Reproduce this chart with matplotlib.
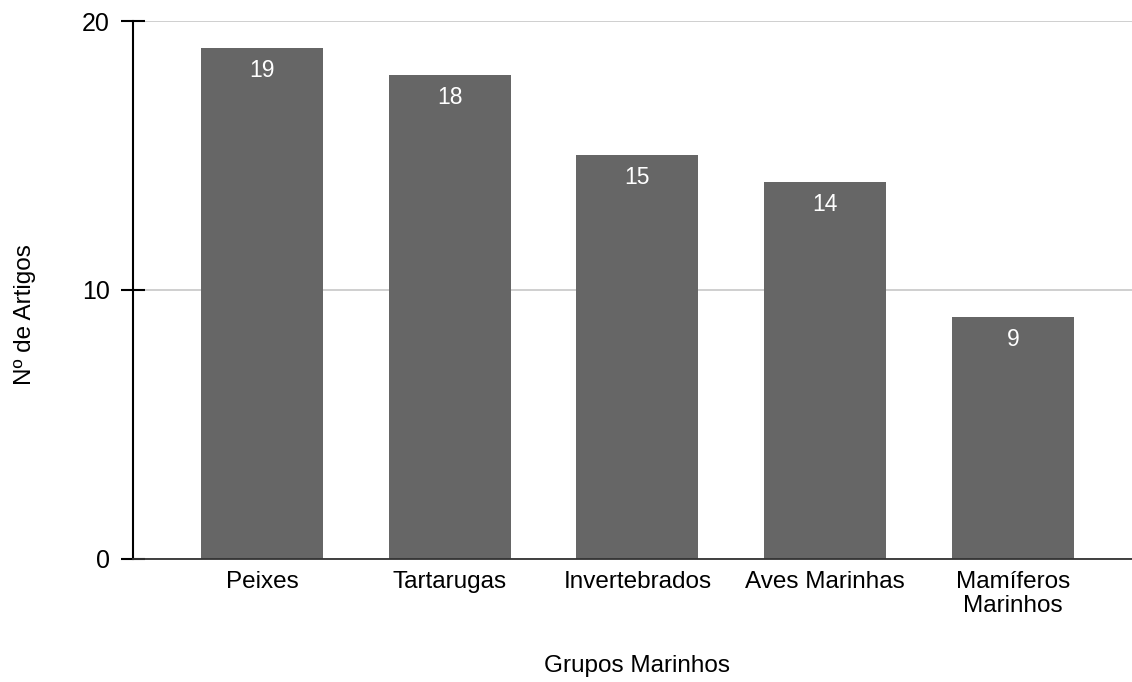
import matplotlib.pyplot as plt
import numpy as np

plt.rcParams['font.family'] = ['Liberation Sans', 'DejaVu Sans']

# data
grupos = ['Peixes', 'Tartarugas', 'Invertebrados', 'Aves Marinhas', 'Mamíferos\nMarinhos']
artigos = [19, 18, 15, 14, 9]

fig = plt.figure(figsize=(11.32, 6.82), dpi=100)
ax = fig.add_axes([0.1175, 0.1804, 0.8825, 0.7888])

x = np.arange(len(grupos))
bars = ax.bar(x, artigos, width=0.65, color='#666666', zorder=2)

for b, v in zip(bars, artigos):
    ax.annotate(str(v), (b.get_x() + b.get_width() / 2, v),
                xytext=(0, -16), textcoords='offset points',
                ha='center', va='center', color='white', fontsize=16.5)

ax.set_xlim(-0.687, 4.634)
ax.set_ylim(0, 20)
ax.set_yticks([0, 10, 20])
ax.set_xticks(x)
ax.set_xticklabels(grupos, fontsize=17.5, linespacing=1.1)
ax.tick_params(axis='x', length=0, pad=9)
ax.tick_params(axis='y', direction='inout', length=17, width=1.5,
               labelsize=18, pad=8)

ax.yaxis.grid(True, color='#cccccc', linewidth=1.3, zorder=0)
for s in ['top', 'right']:
    ax.spines[s].set_visible(False)
ax.spines['left'].set_linewidth(1.5)
ax.spines['bottom'].set_color('#333333')
ax.spines['bottom'].set_linewidth(1.3)
ax.spines['bottom'].set_zorder(3)

ax.set_xlabel('Grupos Marinhos', fontsize=17.5, labelpad=27)
ax.set_ylabel('Nº de Artigos', fontsize=17.5, labelpad=33)
ax.xaxis.label.set_x(0.504)
ax.yaxis.label.set_y(0.455)

plt.savefig('out.png', dpi=100)
